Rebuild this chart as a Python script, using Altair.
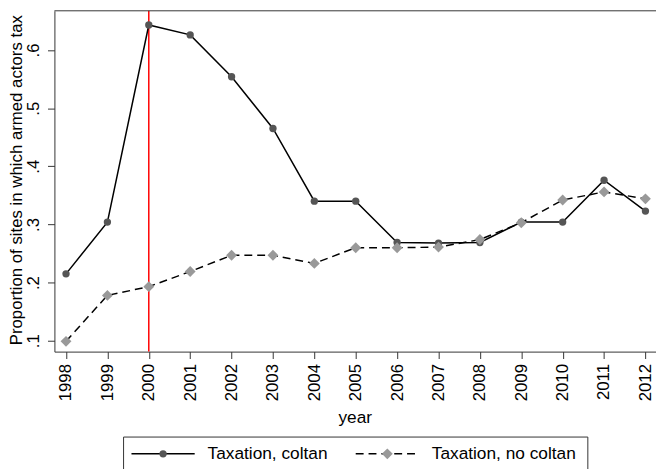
import altair as alt
import pandas as pd

years = list(range(1998, 2013))
coltan = [0.215, 0.304, 0.643, 0.626, 0.554, 0.465, 0.340, 0.340, 0.269, 0.268, 0.269, 0.304, 0.304, 0.376, 0.323]
no_coltan = [0.099, 0.178, 0.193, 0.219, 0.247, 0.247, 0.233, 0.260, 0.260, 0.261, 0.274, 0.303, 0.342, 0.356, 0.344]
series_names = ["Taxation, coltan", "Taxation, no coltan"]
xline_year = [2000]
y_ticks = [0.1, 0.2, 0.3, 0.4, 0.5, 0.6]

W, H = 609, 345
FONT = "Liberation Sans"

df_c = pd.DataFrame({"year": years, "value": coltan})
df_n = pd.DataFrame({"year": years, "value": no_coltan})
df_x = pd.DataFrame({"year": xline_year})

xscale = alt.Scale(domain=[1997.72, 2012.255], nice=False, zero=False)
yscale = alt.Scale(domain=[0.0813, 0.6674], nice=False, zero=False)

xaxis = alt.Axis(
    values=years, format="d", labelAngle=270, title="year", grid=False,
    labelFont=FONT, labelFontSize=17, labelColor="black", labelPadding=5,
    tickSize=7, tickColor="#333", domainColor="#333", labelFlush=False,
    titleFont=FONT, titleFontSize=17.5, titleFontWeight="normal", titleColor="black",
    titleX=304, titleY=67, titleBaseline="middle", titleAnchor="middle",
)
yaxis = alt.Axis(
    values=y_ticks, labelAngle=270, grid=False,
    labelExpr="substring(format(datum.value, '.1f'), 1)",
    labelFont=FONT, labelFontSize=17, labelColor="black", labelPadding=5,
    tickSize=7, tickColor="#333", domainColor="#333",
    title="Proportion of sites in which armed actors tax",
    titleFont=FONT, titleFontSize=17, titleFontWeight="normal", titleColor="black",
    titleAngle=270, titleX=-38, titleY=171, titleBaseline="middle", titleAlign="center",
)

X = alt.X("year:Q", scale=xscale, axis=xaxis)
Y = alt.Y("value:Q", scale=yscale, axis=yaxis)

vline = alt.Chart(df_x).mark_rule(color="#ff0000", strokeWidth=1.5).encode(
    x=alt.X("year:Q", scale=xscale, axis=xaxis)
)

line_c = alt.Chart(df_c).mark_line(color="black", strokeWidth=1.5).encode(x=X, y=Y)
pts_c = alt.Chart(df_c).mark_point(shape="circle", filled=True, color="#555555", size=55, opacity=1).encode(x=X, y=Y)
line_n = alt.Chart(df_n).mark_line(color="black", strokeWidth=1.5, strokeDash=[8, 5]).encode(x=X, y=Y)
pts_n = alt.Chart(df_n).mark_point(shape="diamond", filled=True, color="#999999", size=121, opacity=1).encode(x=X, y=Y)

top_border = alt.Chart(df_x).mark_rule(color="#333", strokeWidth=1).encode(
    x=alt.value(0), x2=alt.value(W), y=alt.value(0)
)

# legend (manual, Stata style)
LY = 448.5
leg_box = alt.Chart(df_x).mark_rect(fill="white", fillOpacity=0, stroke="#333", strokeWidth=1).encode(
    x=alt.value(70), x2=alt.value(540), y=alt.value(431.5), y2=alt.value(470)
)
leg_l1 = alt.Chart(df_x).mark_rule(color="black", strokeWidth=1.5).encode(
    x=alt.value(78), x2=alt.value(142), y=alt.value(LY)
)
leg_p1 = alt.Chart(df_x).mark_point(shape="circle", filled=True, color="#555555", size=55, opacity=1).encode(
    x=alt.value(110), y=alt.value(LY)
)
leg_t1 = alt.Chart(df_x).mark_text(align="left", baseline="middle", font=FONT, fontSize=17.5, color="black").encode(
    x=alt.value(155), y=alt.value(LY), text=alt.value(series_names[0])
)
leg_l2 = alt.Chart(df_x).mark_rule(color="black", strokeWidth=1.5, strokeDash=[8, 5]).encode(
    x=alt.value(305), x2=alt.value(370), y=alt.value(LY)
)
leg_p2 = alt.Chart(df_x).mark_point(shape="diamond", filled=True, color="#999999", size=121, opacity=1).encode(
    x=alt.value(337), y=alt.value(LY)
)
leg_t2 = alt.Chart(df_x).mark_text(align="left", baseline="middle", font=FONT, fontSize=17.5, color="black").encode(
    x=alt.value(382), y=alt.value(LY), text=alt.value(series_names[1])
)

chart = alt.layer(
    vline, line_c, pts_c, line_n, pts_n, top_border,
    leg_box, leg_l1, leg_p1, leg_t1, leg_l2, leg_p2, leg_t2,
).properties(
    width=W, height=H,
    autosize=alt.AutoSizeParams(type="none"),
    padding={"left": 47, "top": 0, "right": 0, "bottom": 116},
    background="white",
).configure_view(stroke=None)

chart.save("out.html", embed_options={"renderer": "svg", "actions": False})
